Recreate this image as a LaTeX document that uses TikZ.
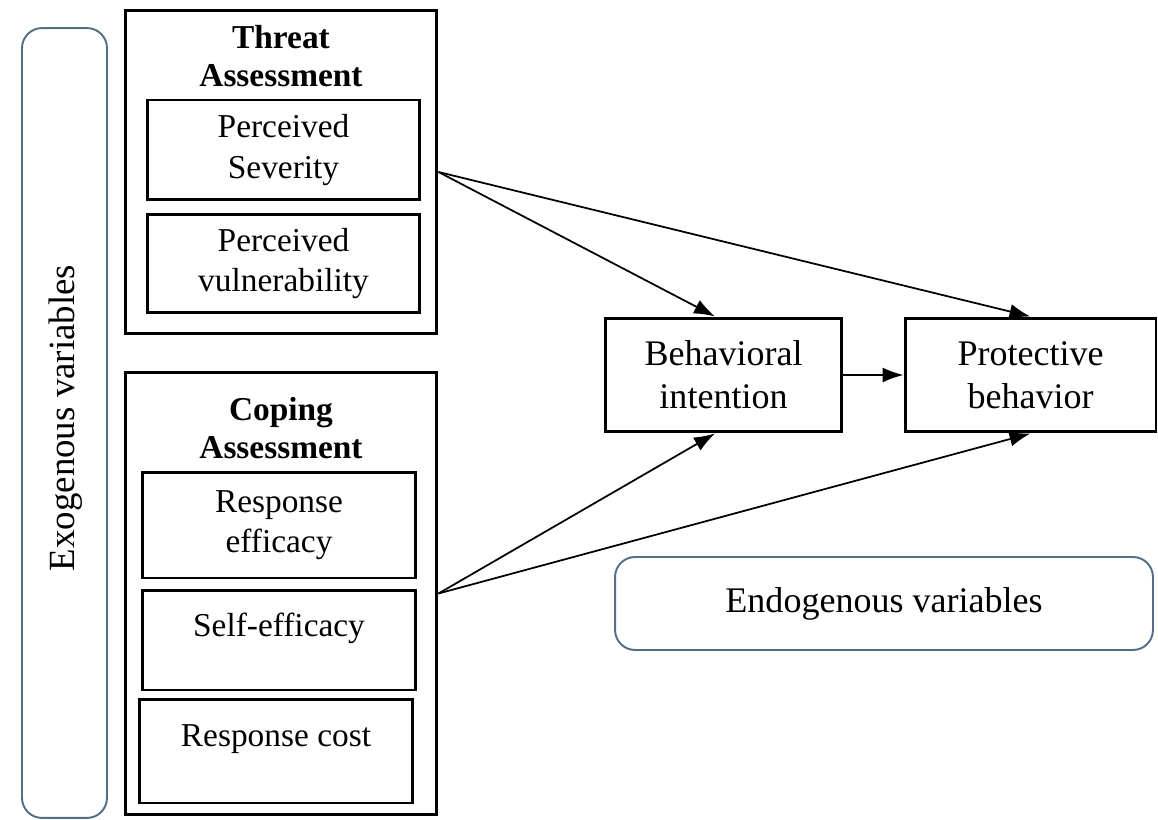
\documentclass[tikz,border=0pt]{standalone}
\usepackage{fontspec}
\setmainfont{Liberation Serif}
\usepackage{tikz}
\usetikzlibrary{arrows.meta, positioning}
\definecolor{varline}{RGB}{85,110,135}
\tikzset{
  every node/.style={align=center},
  outer/.style={draw, line width=1.7pt, rectangle, inner sep=0pt, minimum width=6.24cm},
  sub/.style={draw, line width=1.7pt, rectangle, inner sep=0pt, minimum width=5.48cm,
    font=\fontsize{19}{23}\selectfont},
  endbox/.style={draw, line width=1.7pt, rectangle, inner sep=0pt, minimum height=2.28cm,
    font=\fontsize{20.5}{24.5}\selectfont},
  group/.style={draw=varline, line width=1.1pt, rounded corners=0.4cm, fill=white,
    inner sep=0pt, font=\fontsize{20.5}{24}\selectfont},
  arrow/.style={-{Latex[length=0.42cm, width=0.3cm]}, line width=1pt}
}

\begin{document}
\begin{tikzpicture}[x=0.02cm, y=-0.02cm]
  \useasboundingbox (0,0) rectangle (1158,820);

  % Rounded group frames
  \node[group, minimum width=1.7cm, minimum height=15.8cm] (exo) at (64.5,423) {};
  \node[rotate=90, font=\fontsize{21}{24}\selectfont] (exolabel) at (66,418) {Exogenous variables};
  \node[group, minimum width=10.76cm, minimum height=1.86cm] (endo) at (884,603.5) {Endogenous variables};

  % Threat assessment
  \node[outer, minimum height=6.48cm] (threat) at (281,172) {};
  \node[font=\bfseries\fontsize{19}{22}\selectfont] (threattitle) at (281,56) {Threat\\Assessment};
  \node[sub, minimum width=5.46cm, minimum height=2cm] (severity) at (283.5,150) {Perceived\\Severity};
  \node[sub, minimum width=5.46cm, minimum height=1.98cm] (vulner) at (283.5,263.5) {Perceived\\vulnerability};

  % Coping assessment
  \node[outer, minimum height=8.86cm] (coping) at (281,593.5) {};
  \node[font=\bfseries\fontsize{19}{22}\selectfont] (copingtitle) at (281,428) {Coping\\Assessment};
  \node[sub, minimum height=2.12cm] (respeff) at (279,525) {Response\\efficacy};
  \node[sub, minimum height=2cm, text depth=0.62cm] (selfeff) at (279,640) {Self-efficacy};
  \node[sub, minimum height=2.08cm, text depth=0.62cm] (respcost) at (276,751) {Response cost};

  % Outcomes
  \node[endbox, minimum width=4.74cm] (intent) at (723.5,375) {Behavioral\\intention};
  \node[endbox, minimum width=5.02cm] (protect) at (1030.5,375) {Protective\\behavior};

  % Arrows
  \draw[arrow] (threat.east) -- ([xshift=-0.17cm]intent.north);
  \draw[arrow] (threat.east) -- (protect.north);
  \draw[arrow] (coping.east) -- ([xshift=-0.17cm]intent.south);
  \draw[arrow] (coping.east) -- (protect.south);
  \draw[arrow] (intent) -- (protect);
\end{tikzpicture}
\end{document}
